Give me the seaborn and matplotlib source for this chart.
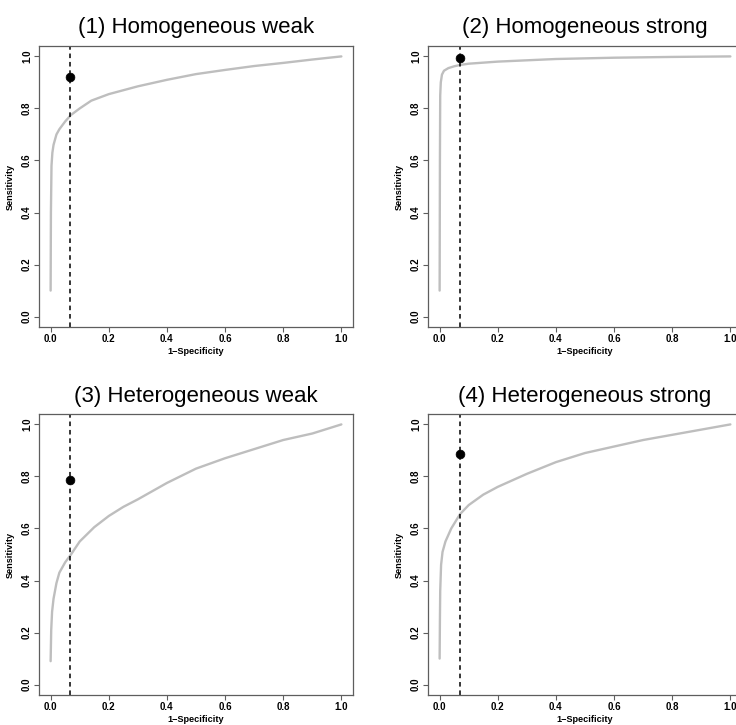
import matplotlib
matplotlib.use("Agg")
import matplotlib.pyplot as plt
import seaborn as sns
import pandas as pd

# ---- data ----
titles = ["(1) Homogeneous weak", "(2) Homogeneous strong",
          "(3) Heterogeneous weak", "(4) Heterogeneous strong"]

fpr_1 = [0.0, 0.001, 0.003, 0.006, 0.01, 0.02, 0.03, 0.05, 0.07, 0.1, 0.14, 0.2, 0.3, 0.4, 0.5, 0.6, 0.7, 0.8, 0.9, 1.0]
tpr_1 = [0.10, 0.40, 0.58, 0.63, 0.66, 0.70, 0.72, 0.75, 0.775, 0.80, 0.83, 0.855, 0.885, 0.91, 0.932, 0.948, 0.963, 0.975, 0.988, 1.0]

fpr_2 = [0.0, 0.001, 0.002, 0.004, 0.008, 0.015, 0.03, 0.05, 0.07, 0.1, 0.2, 0.4, 0.6, 0.8, 1.0]
tpr_2 = [0.10, 0.60, 0.85, 0.90, 0.93, 0.945, 0.955, 0.962, 0.967, 0.972, 0.98, 0.99, 0.995, 0.998, 1.0]

fpr_3 = [0.0, 0.001, 0.002, 0.005, 0.01, 0.02, 0.03, 0.05, 0.07, 0.1, 0.15, 0.2, 0.25, 0.3, 0.4, 0.5, 0.6, 0.7, 0.8, 0.9, 1.0]
tpr_3 = [0.09, 0.15, 0.21, 0.28, 0.33, 0.39, 0.43, 0.47, 0.50, 0.55, 0.605, 0.648, 0.683, 0.712, 0.775, 0.83, 0.87, 0.905, 0.94, 0.965, 1.0]

fpr_4 = [0.0, 0.001, 0.002, 0.005, 0.01, 0.02, 0.04, 0.07, 0.1, 0.15, 0.2, 0.3, 0.4, 0.5, 0.6, 0.7, 0.8, 0.9, 1.0]
tpr_4 = [0.10, 0.25, 0.36, 0.46, 0.51, 0.55, 0.60, 0.655, 0.69, 0.73, 0.76, 0.81, 0.855, 0.89, 0.915, 0.94, 0.96, 0.98, 1.0]

cut_fpr = [0.068, 0.07, 0.068, 0.07]
cut_tpr = [0.922, 0.995, 0.785, 0.886]

curves = [(fpr_1, tpr_1), (fpr_2, tpr_2), (fpr_3, tpr_3), (fpr_4, tpr_4)]

# ---- style ----
sns.set_style("white")
plt.rcParams["font.family"] = ["Liberation Sans", "DejaVu Sans"]
plt.rcParams["text.color"] = "black"
plt.rcParams["axes.labelcolor"] = "black"
plt.rcParams["xtick.color"] = "black"
plt.rcParams["ytick.color"] = "black"
frame_col = "#5e5e5e"

fig = plt.figure(figsize=(7.36, 7.25), dpi=100)
W, H = 736, 725
# axes boxes in pixels: left, top ; right-hand panels run past the image edge
boxes = [(39, 46), (428, 46), (39, 414), (428, 414)]
aw, ah = 314, 281

for i, (fx, ty) in enumerate(boxes):
    ax = fig.add_axes([fx / W, 1 - (ty + ah) / H, aw / W, ah / H])
    fpr, tpr = curves[i]
    df = pd.DataFrame({"fpr": fpr, "tpr": tpr})
    sns.lineplot(data=df, x="fpr", y="tpr", ax=ax, color="#bebebe", lw=1.7, sort=False,
                 estimator=None)
    ax.axvline(cut_fpr[i], color="black", lw=1.1, ls=(0, (3, 2.5)))
    pt = pd.DataFrame({"fpr": [cut_fpr[i]], "tpr": [cut_tpr[i]]})
    sns.scatterplot(data=pt, x="fpr", y="tpr", ax=ax, color="black", s=40,
                    edgecolor="black", linewidth=0.5, zorder=5)

    ax.set_xlim(-0.04, 1.04)
    ax.set_ylim(-0.04, 1.04)
    ticks = [0.0, 0.2, 0.4, 0.6, 0.8, 1.0]
    ax.set_xticks(ticks)
    ax.set_yticks(ticks)
    ax.set_xticklabels([f"{t:.1f}" for t in ticks], fontsize=7, fontweight="bold")
    ax.set_yticklabels([f"{t:.1f}" for t in ticks], fontsize=7, fontweight="bold",
                       rotation=90, va="center")
    ax.tick_params(direction="out", length=3.6, width=0.8, color=frame_col, pad=1.5,
                   bottom=True, left=True)
    for s in ax.spines.values():
        s.set_color(frame_col)
        s.set_linewidth(0.9)
    ax.set_xlabel("1\u2212Specificity", fontsize=6.6, fontweight="bold", labelpad=2)
    ax.set_ylabel("Sensitivity", fontsize=6.6, fontweight="bold", labelpad=5)
    ax.set_title(titles[i], fontsize=16, pad=9, color="black")

fig.savefig("out.png", dpi=100)
